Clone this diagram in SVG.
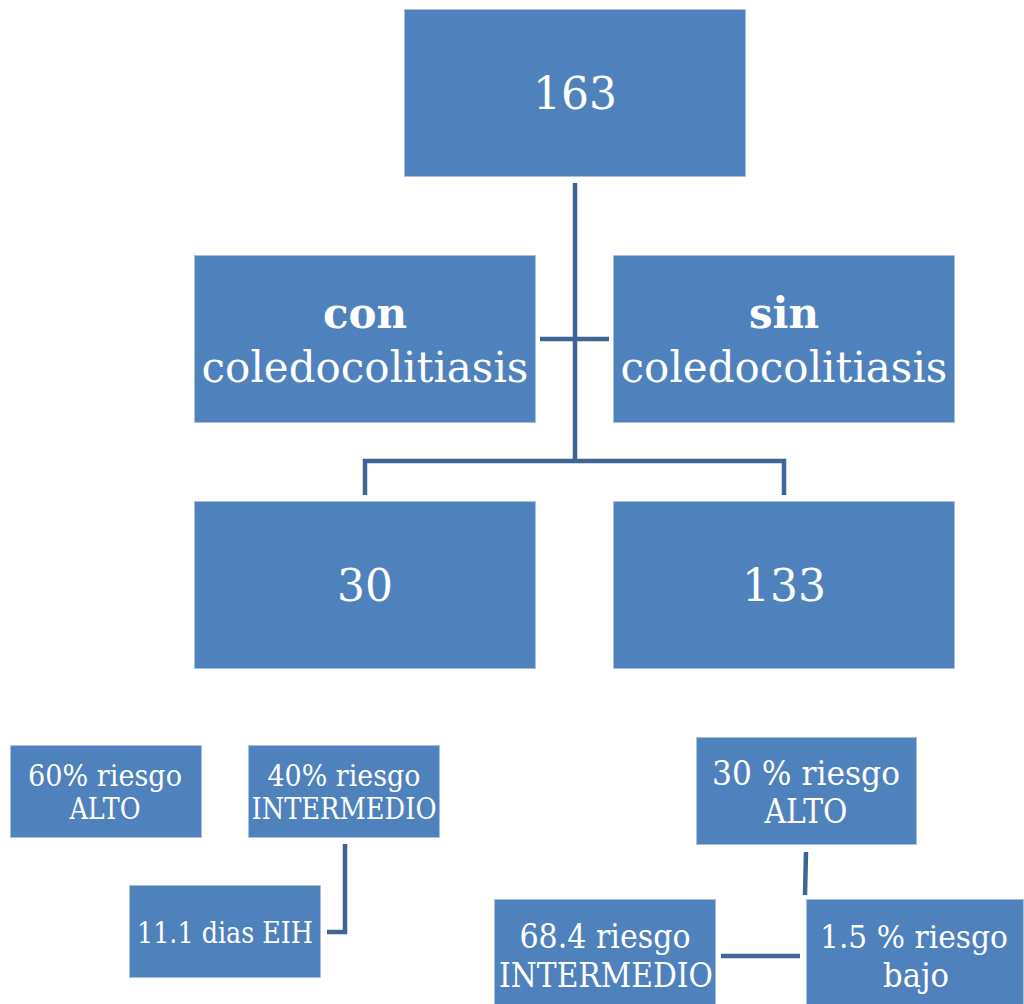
<svg xmlns="http://www.w3.org/2000/svg" width="1024" height="1004" viewBox="0 0 1024 1004">
<style>
.box{fill:#4F81BD;stroke:#A9C0DF;stroke-width:1}
.t{font-family:"DejaVu Serif","Liberation Serif",serif;fill:#FFFFFF;text-anchor:middle}
.big{font-size:42px}
.sm{font-size:29px}
.md{font-size:33px}
.b{font-weight:bold}
.conn{stroke:#3D6596;stroke-width:4.5;fill:none}
</style>
<rect width="1024" height="1004" fill="#FFFFFF"/>
<g id="connectors">
<line class="conn" x1="575" y1="183" x2="575" y2="462"/>
<line class="conn" x1="540" y1="339" x2="609" y2="339"/>
<polyline class="conn" points="365,495 365,461 784,461 784,495"/>
<polyline class="conn" points="345,844 345,932 327,932"/>
<line class="conn" x1="806" y1="852" x2="805" y2="895"/>
<line class="conn" x1="721" y1="956" x2="800" y2="956"/>
</g>
<g id="n163">
<rect class="box" x="404.5" y="9.5" width="341" height="167"/>
<text class="t" x="575" y="109" font-size="44">163</text>
</g>
<g id="ncon">
<rect class="box" x="194.5" y="255.5" width="341" height="167"/>
<text class="t big b" x="365" y="328">con</text>
<text class="t big" x="365" y="382">coledocolitiasis</text>
</g>
<g id="nsin">
<rect class="box" x="613.5" y="255.5" width="341" height="167"/>
<text class="t big b" x="784" y="328">sin</text>
<text class="t big" x="784" y="382">coledocolitiasis</text>
</g>
<g id="n30">
<rect class="box" x="194.5" y="501.5" width="341" height="167"/>
<text class="t" x="365" y="601" font-size="44">30</text>
</g>
<g id="n133">
<rect class="box" x="613.5" y="501.5" width="341" height="167"/>
<text class="t" x="784" y="601" font-size="44">133</text>
</g>
<g id="n60">
<rect class="box" x="10.5" y="745.5" width="191" height="92"/>
<text class="t sm" x="105" y="786" textLength="154" lengthAdjust="spacingAndGlyphs">60% riesgo</text>
<text class="t sm" x="105" y="819" textLength="71" lengthAdjust="spacingAndGlyphs">ALTO</text>
</g>
<g id="n40">
<rect class="box" x="248.5" y="745.5" width="191" height="92"/>
<text class="t sm" x="344" y="786" textLength="153" lengthAdjust="spacingAndGlyphs">40% riesgo</text>
<text class="t sm" x="344" y="819" textLength="185" lengthAdjust="spacingAndGlyphs">INTERMEDIO</text>
</g>
<g id="n111">
<rect class="box" x="129.5" y="885.5" width="191" height="92"/>
<text class="t sm" x="225" y="943" textLength="176" lengthAdjust="spacingAndGlyphs">11.1 dias EIH</text>
</g>
<g id="n30alto">
<rect class="box" x="696.5" y="737.5" width="220" height="107"/>
<text class="t md" x="806" y="785" textLength="188" lengthAdjust="spacingAndGlyphs">30 % riesgo</text>
<text class="t md" x="806" y="823" textLength="83" lengthAdjust="spacingAndGlyphs">ALTO</text>
</g>
<g id="n684">
<rect class="box" x="494.5" y="899.5" width="221" height="110"/>
<text class="t md" x="605" y="948" textLength="171" lengthAdjust="spacingAndGlyphs">68.4 riesgo</text>
<text class="t md" x="606" y="987" textLength="214" lengthAdjust="spacingAndGlyphs">INTERMEDIO</text>
</g>
<g id="n15">
<rect class="box" x="806.5" y="899.5" width="217" height="110"/>
<text class="t" x="914" y="948" font-size="31" textLength="188" lengthAdjust="spacingAndGlyphs">1.5 % riesgo</text>
<text class="t md" x="916" y="987" textLength="66" lengthAdjust="spacingAndGlyphs">bajo</text>
</g>
</svg>
